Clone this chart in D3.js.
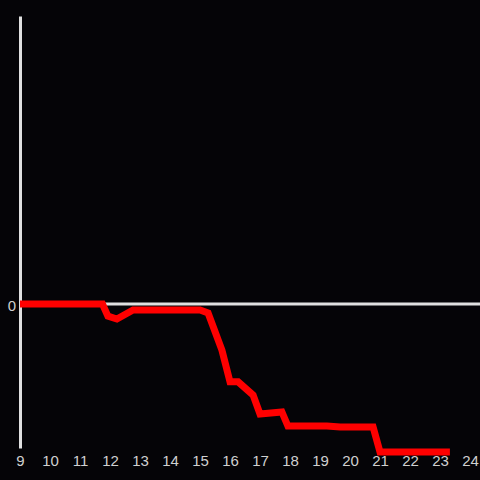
<!DOCTYPE html>
<html>
<head>
<meta charset="utf-8">
<script src="https://cdn.jsdelivr.net/npm/d3@7"></script>
<style>
  html, body { margin: 0; padding: 0; background: #050407; }
  svg { display: block; }
</style>
</head>
<body>
<svg id="chart" width="480" height="480"></svg>
<script>
// hour of day (x) and value (y)
const hours = [9, 11.75, 11.93, 12.23, 12.77, 15.0, 15.27, 15.73, 16.0, 16.27, 16.77, 17.0,
  17.73, 17.93, 19.23, 19.67, 20.77, 21.0, 23.33];
const values = [0, 0, -4.2, -5.2, -2.1, -2.1, -3.1, -16, -27, -27, -31.6, -38.2,
  -37.5, -42.4, -42.4, -42.7, -42.7, -51.4, -51.4];
const xTicks = [9, 10, 11, 12, 13, 14, 15, 16, 17, 18, 19, 20, 21, 22, 23, 24];
const yTicks = [0];

const svg = d3.select('#chart'),
  margin = {top: 16, right: 10, bottom: 32, left: 20},
  width = +svg.attr('width') - margin.left - margin.right,
  height = +svg.attr('height') - margin.top - margin.bottom;

const x = d3.scaleLinear().domain([9, 24]).range([0, width]),
  y = d3.scaleLinear().domain([-50, 100]).range([height, 0]);

const g = svg.append('g')
  .attr('transform', 'translate(' + margin.left + ',' + margin.top + ')');

const font = '"Liberation Sans", Arial, sans-serif';

// zero line
g.append('line')
  .attr('x1', 0).attr('x2', width + margin.right)
  .attr('y1', y(0)).attr('y2', y(0))
  .attr('stroke', '#e0e0e0').attr('stroke-width', 3);

// y axis
const yAxis = g.append('g')
  .call(d3.axisLeft(y).tickValues(yTicks).tickSize(0).tickPadding(4));
yAxis.select('.domain').attr('stroke', '#e0e0e0').attr('stroke-width', 3);
yAxis.selectAll('text').attr('fill', '#d0d0d0').attr('dy', '0.4em')
  .style('font-family', font).style('font-size', '15px');

// x axis (labels only)
const xAxis = g.append('g')
  .attr('transform', 'translate(0,' + height + ')')
  .call(d3.axisBottom(x).tickValues(xTicks).tickFormat(d3.format('d')).tickSize(0).tickPadding(7));
xAxis.select('.domain').remove();
xAxis.selectAll('text').attr('fill', '#d0d0d0')
  .style('font-family', font).style('font-size', '15px');

const data = hours.map(function (h, i) { return {h: h, v: values[i]}; });

g.append('path')
  .datum(data)
  .attr('fill', 'none')
  .attr('stroke', '#ff0000')
  .attr('stroke-width', 7)
  .attr('stroke-linejoin', 'miter')
  .attr('d', d3.line()
    .x(function (d) { return x(d.h); })
    .y(function (d) { return y(d.v); }));
</script>
</body>
</html>
